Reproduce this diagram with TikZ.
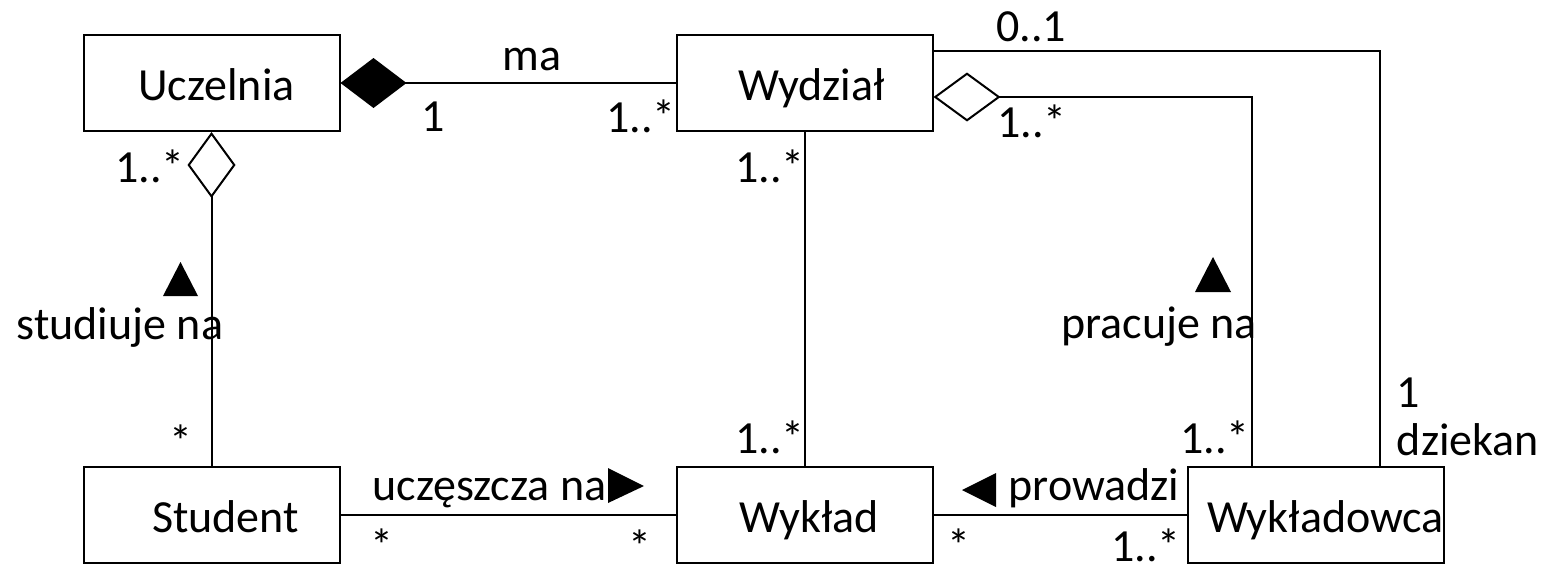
\documentclass[tikz,border=0pt]{standalone}
\usepackage{fontspec}
\setmainfont{Carlito}
\usetikzlibrary{arrows.meta}
\newcommand{\shifttext}[2]{\makebox[0pt]{\hspace*{#1}#2}}
\tikzset{
  cls/.style={draw, line width=2pt, minimum width=256pt, minimum height=96pt, inner sep=0pt, text height=34pt, text depth=0pt},
  lbl/.style={anchor=base, inner sep=0pt},
  assoc/.style={line width=2pt},
  dirtri/.style={fill=black},
}
\begin{document}
\begin{tikzpicture}[x=1pt, y=-1pt, font=\fontsize{46}{55}\selectfont]
\useasboundingbox (0,0) rectangle (1555,565);
% classes
\node[cls] (Uczelnia) at (211.5,83) {\shifttext{10pt}{Uczelnia}};
\node[cls] (Wydzial) at (804.5,83) {\shifttext{14pt}{Wydział}};
\node[cls] (Student) at (211.5,515) {\shifttext{28pt}{Student}};
\node[cls] (Wyklad) at (804.5,515) {\shifttext{10pt}{Wykład}};
\node[cls] (Wykladowca) at (1315.5,515) {\shifttext{20pt}{Wykładowca}};
% connectors
\draw[assoc, {Diamond[length=66pt,width=50pt]}-] (Uczelnia.east) -- (Wydzial.west);
\draw[assoc, {Diamond[open,fill=white,length=66pt,width=48pt]}-] (Uczelnia.south) -- (Student.north);
\draw[assoc] (Wydzial.south) -- (Wyklad.north);
\draw[assoc, {Diamond[open,fill=white,length=67pt,width=49pt]}-] ([yshift=-14pt]Wydzial.east) -| ([xshift=-63.5pt]Wykladowca.north);
\draw[assoc] ([yshift=32pt]Wydzial.east) -| ([xshift=64.5pt]Wykladowca.north);
\draw[assoc] (Student.east) -- (Wyklad.west);
\draw[assoc] (Wyklad.east) -- (Wykladowca.west);
% direction triangles
\fill[dirtri] (163,296) -- (198,296) -- (180.5,262) -- cycle;
\fill[dirtri] (1195,292) -- (1231,292) -- (1213,257) -- cycle;
\fill[dirtri] (608,468) -- (608,503) -- (644,486) -- cycle;
\fill[dirtri] (996,473) -- (996,507) -- (962,490) -- cycle;
% labels
\node[lbl] (lma) at (532,70) {ma};
\node[lbl] (lm1) at (433,131) {1};
\node[lbl] (lm2) at (641,132) {1..*};
\node[lbl] (lm3) at (150,182) {1..*};
\node[lbl] (lm4) at (1031,41) {0..1};
\node[lbl] (lm5) at (1032,137) {1..*};
\node[lbl] (lm6) at (770,182) {1..*};
\node[lbl] (lstud) at (120,339) {studiuje na};
\node[lbl] (lm7) at (181,457) {*};
\node[lbl] (lucz) at (489.5,500) {uczęszcza na};
\node[lbl] (lm8) at (382,561) {*};
\node[lbl] (lm9) at (640,562) {*};
\node[lbl] (lm10) at (770,453) {1..*};
\node[lbl] (lm11) at (959,561) {*};
\node[lbl] (lm12) at (1146,561) {1..*};
\node[lbl] (lprow) at (1094,500) {prowadzi};
\node[lbl] (lm13) at (1215,453) {1..*};
\node[lbl] (lprac) at (1159,338) {pracuje na};
\node[lbl] (lm14) at (1408,407) {1};
\node[lbl] (ldziek) at (1468,455) {dziekan};
\end{tikzpicture}
\end{document}
